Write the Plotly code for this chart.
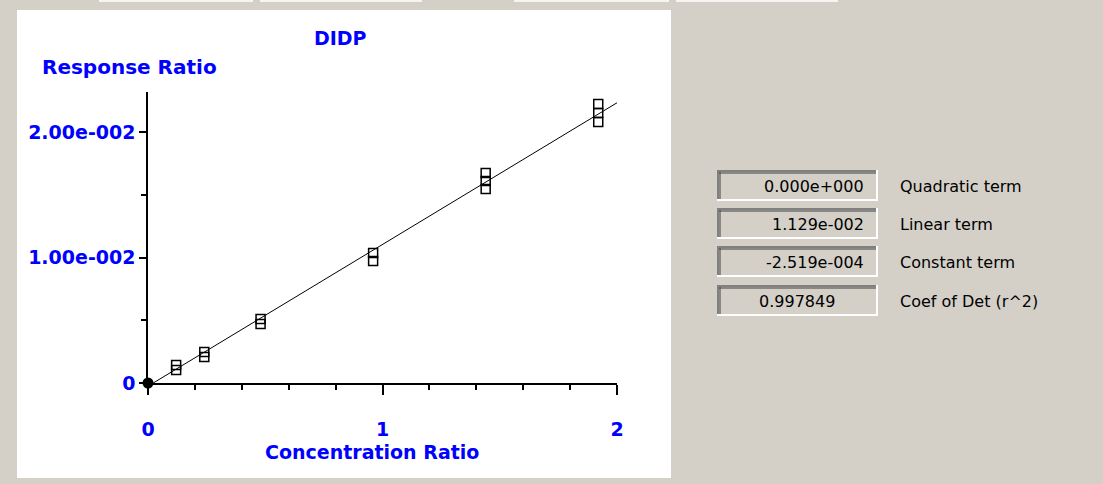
import plotly.graph_objects as go

# ---------------- data ----------------
conc_levels = [0.12, 0.24, 0.48, 0.96, 1.44, 1.92]
resp_rep1 = [0.00143, 0.00247, 0.00510, 0.01036, 0.01673, 0.02223]
resp_rep2 = [0.00104, 0.00207, 0.00470, 0.00972, 0.01610, 0.02151]
resp_rep3 = [None, None, None, None, 0.01546, 0.02080]

origin_x = [0.0]
origin_y = [0.0]

quad_term = 0.0
linear_term = 1.129e-002
constant_term = -2.519e-004
coef_det = 0.997849
fit_x_range = [0.0, 2.0]

x_tick_vals = [0, 1, 2]
x_tick_text = ["0", "1", "2"]
x_minor_vals = [0.2, 0.4, 0.6, 0.8, 1.2, 1.4, 1.6, 1.8]
y_tick_vals = [0, 0.01, 0.02]
y_tick_text = ["0", "1.00e-002", "2.00e-002"]
y_minor_vals = [0.005, 0.015]

coef_labels = ["Quadratic term", "Linear term", "Constant term", "Coef of Det (r^2)"]

title_text = "DIDP"
y_title = "Response Ratio"
x_title = "Concentration Ratio"

# ---------------- helpers ----------------
W, H = 1103, 484
BG = "#D4D0C8"
BLUE = "#0000FF"


def px(x):
    return x / W


def py(y):
    return 1 - y / H


def fmt_e(v):
    if v == 0:
        return "0.000e+000"
    s = f"{v:.3e}"
    mant, exp = s.split("e")
    sign = "-" if exp.startswith("-") else "+"
    return f"{mant}e{sign}{int(exp.lstrip('+-')):03d}"


coef_texts = [fmt_e(quad_term), fmt_e(linear_term), fmt_e(constant_term), f"{coef_det:.6f}"]

# ---------------- figure ----------------
fig = go.Figure()

xs, ys = [], []
for rep in (resp_rep1, resp_rep2, resp_rep3):
    for c, r in zip(conc_levels, rep):
        if r is not None:
            xs.append(c)
            ys.append(r)

fit_y = [quad_term * x * x + linear_term * x + constant_term for x in fit_x_range]

fig.add_trace(go.Scatter(x=fit_x_range, y=fit_y, mode="lines",
                         line=dict(color="black", width=1), showlegend=False,
                         hoverinfo="skip"))
fig.add_trace(go.Scatter(x=xs, y=ys, mode="markers",
                         marker=dict(symbol="square-open", size=9, color="black",
                                     line=dict(width=1.5, color="black")),
                         cliponaxis=False, showlegend=False))
fig.add_trace(go.Scatter(x=origin_x, y=origin_y, mode="markers",
                         marker=dict(symbol="circle", size=11, color="black"),
                         cliponaxis=False, showlegend=False))

tick_font = dict(family="DejaVu Sans", size=19, color=BLUE, weight="bold")

fig.update_layout(
    width=W, height=H, autosize=False,
    margin=dict(l=0, r=0, t=0, b=0, pad=0, autoexpand=False),
    paper_bgcolor=BG,
    plot_bgcolor="rgba(0,0,0,0)",
    showlegend=False,
    xaxis=dict(
        domain=[px(148), px(617)], range=[0, 2],
        showgrid=False, zeroline=False,
        showline=True, linecolor="black", linewidth=1.5,
        ticks="outside", ticklen=10, tickwidth=1.5, tickcolor="black",
        tickmode="array", tickvals=x_tick_vals, ticktext=x_tick_text,
        tickfont=tick_font, ticklabelstandoff=18,
        minor=dict(tickmode="array", tickvals=x_minor_vals, ticks="outside",
                   ticklen=5, tickwidth=1.5, tickcolor="black", showgrid=False),
    ),
    yaxis=dict(
        domain=[py(383), py(92)], range=[0, 0.02 * (383 - 92) / 251],
        showgrid=False, zeroline=False,
        showline=True, linecolor="black", linewidth=1.5,
        ticks="outside", ticklen=7, tickwidth=1.5, tickcolor="black",
        tickmode="array", tickvals=y_tick_vals, ticktext=y_tick_text,
        tickfont=tick_font,
        minor=dict(tickmode="array", tickvals=y_minor_vals, ticks="outside",
                   ticklen=5, tickwidth=1.5, tickcolor="black", showgrid=False),
    ),
)

shapes = []
# white chart panel
shapes.append(dict(type="rect", xref="paper", yref="paper",
                   x0=px(17), x1=px(671), y0=py(478), y1=py(10),
                   fillcolor="white", line=dict(width=0), layer="below"))
# tab remnants along the top edge
for a, b in [(99, 253), (260, 422), (514, 669), (676, 838)]:
    shapes.append(dict(type="rect", xref="paper", yref="paper",
                       x0=px(a), x1=px(b), y0=py(2), y1=py(0),
                       fillcolor="#F6F5F2", line=dict(width=0), layer="below"))

annotations = [
    dict(text=title_text, x=px(340), y=py(38), xref="paper", yref="paper",
         xanchor="center", yanchor="middle", showarrow=False,
         font=dict(family="DejaVu Sans", size=19, color=BLUE, weight="bold")),
    dict(text=y_title, x=px(40), y=py(67), xref="paper", yref="paper",
         xanchor="left", yanchor="middle", showarrow=False,
         font=dict(family="DejaVu Sans", size=20, color=BLUE, weight="bold")),
    dict(text=x_title, x=px(372), y=py(452), xref="paper", yref="paper",
         xanchor="center", yanchor="middle", showarrow=False,
         font=dict(family="DejaVu Sans", size=19, color=BLUE, weight="bold")),
]

# coefficient boxes
box_l, box_r = 717, 878
box_tops = [170, 208, 246, 285]
box_h = 31
for i, top in enumerate(box_tops):
    bot = top + box_h
    shapes.append(dict(type="rect", xref="paper", yref="paper",
                       x0=px(box_l), x1=px(box_r), y0=py(bot), y1=py(top),
                       fillcolor=BG, line=dict(width=0)))
    shapes.append(dict(type="line", xref="paper", yref="paper",
                       x0=px(box_l), x1=px(box_r), y0=py(top + 1), y1=py(top + 1),
                       line=dict(color="#808080", width=2)))
    shapes.append(dict(type="line", xref="paper", yref="paper",
                       x0=px(box_l + 1), x1=px(box_l + 1), y0=py(bot), y1=py(top),
                       line=dict(color="#808080", width=2)))
    shapes.append(dict(type="line", xref="paper", yref="paper",
                       x0=px(box_l + 2), x1=px(box_r - 2), y0=py(top + 3), y1=py(top + 3),
                       line=dict(color="#404040", width=1)))
    shapes.append(dict(type="line", xref="paper", yref="paper",
                       x0=px(box_l + 3), x1=px(box_l + 3), y0=py(bot - 2), y1=py(top + 2),
                       line=dict(color="#404040", width=1)))
    shapes.append(dict(type="line", xref="paper", yref="paper",
                       x0=px(box_l), x1=px(box_r), y0=py(bot - 1), y1=py(bot - 1),
                       line=dict(color="white", width=2)))
    shapes.append(dict(type="line", xref="paper", yref="paper",
                       x0=px(box_r - 1), x1=px(box_r - 1), y0=py(bot), y1=py(top),
                       line=dict(color="white", width=2)))
    cy = top + box_h / 2 + 1
    if i < 3:
        annotations.append(dict(text=coef_texts[i], x=px(866), y=py(cy),
                                 xref="paper", yref="paper", xanchor="right",
                                 yanchor="middle", showarrow=False,
                                 font=dict(family="DejaVu Sans", size=16, color="black")))
    else:
        annotations.append(dict(text=coef_texts[i], x=px(797), y=py(cy),
                                 xref="paper", yref="paper", xanchor="center",
                                 yanchor="middle", showarrow=False,
                                 font=dict(family="DejaVu Sans", size=16, color="black")))
    annotations.append(dict(text=coef_labels[i], x=px(898), y=py(cy),
                             xref="paper", yref="paper", xanchor="left",
                             yanchor="middle", showarrow=False,
                             font=dict(family="DejaVu Sans", size=16, color="black")))

fig.update_layout(shapes=shapes, annotations=annotations)

post_js = (
    "document.documentElement.style.margin='0';"
    "document.body.style.margin='0';document.body.style.padding='0';"
    "document.body.style.overflow='hidden';"
    "document.body.style.background='" + BG + "';"
    "var gd=document.getElementById('{plot_id}');"
    "Plotly.relayout(gd,{width:" + str(W) + ",height:" + str(H) + "});"
)

fig.write_html("out.html", post_script=post_js, config={"displayModeBar": False})
